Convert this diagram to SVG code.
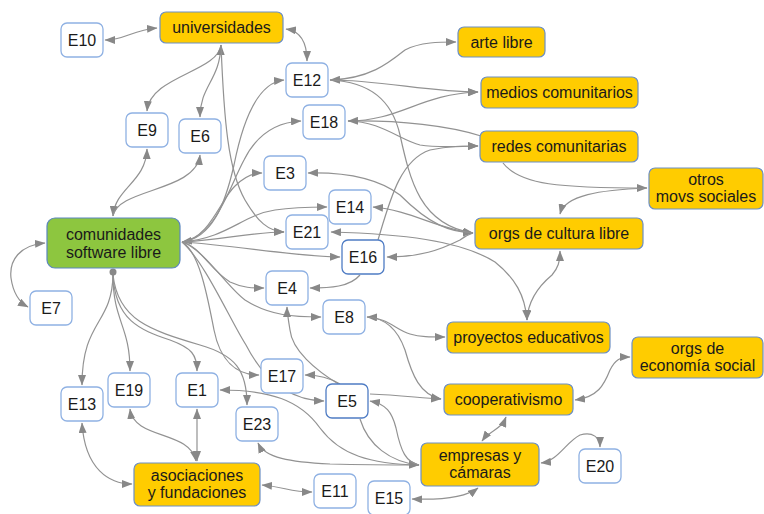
<svg xmlns="http://www.w3.org/2000/svg" width="764" height="514" viewBox="0 0 764 514">
<defs>
<style>
.e rect{fill:#fff;stroke:#8fb1e3;stroke-width:1.3}
.e.d rect{stroke:#4f7cc4}
.y rect{fill:#FFCC00;stroke:#6d8fc4;stroke-width:1.2}
.g rect{fill:#8DC63F;stroke:#5b86bf;stroke-width:1.2}
text{font-family:"Liberation Sans",Arial,sans-serif;font-size:16px;fill:#1a1a1a;text-anchor:middle}
#edges path{fill:none;stroke:#929292;stroke-width:1.2}
.b{marker-start:url(#a);marker-end:url(#a)}
.t{marker-end:url(#a)}
.s{marker-start:url(#a)}
</style>
<marker id="a" markerUnits="userSpaceOnUse" markerWidth="11" markerHeight="8" refX="10" refY="4" orient="auto-start-reverse"><path d="M0,0 L10.5,4 L0,8 z" fill="#888"/></marker>
</defs>
<rect width="764" height="514" fill="#fff"/>
<g id="edges">
<path class="b" d="M105,40 C125,40 132,30 157,28"/>
<path class="b" d="M286,29 C300,31 307,42 307,61"/>
<path class="t" d="M221,45 C218,72 150,76 147,111"/>
<path class="b" d="M221,45 C220,80 200,86 200,117"/>
<path class="t" d="M221,45 C224,120 228,170 245,200 C258,222 268,231 284,232"/>
<path class="b" d="M113,216 C115,188 146,182 147,149"/>
<path class="t" d="M113,216 C118,188 196,192 200,155"/>
<path class="b" d="M45,243 C20,245 9,260 11,278 C13,292 19,302 28,307"/>
<path class="b" d="M182,242 C212,238 225,205 234,165 C245,110 262,82 284,80"/>
<path class="t" d="M182,242 C216,236 228,190 244,160 C258,132 280,122 301,121"/>
<path class="t" d="M182,242 C210,238 220,200 235,186 C245,176 254,173 262,173"/>
<path class="t" d="M182,242 C228,238 242,215 275,210 C295,207 310,207 327,207"/>
<path class="t" d="M182,242 C222,240 252,232 284,232"/>
<path class="t" d="M182,242 C240,246 290,256 340,257"/>
<path class="t" d="M182,242 C200,246 210,270 230,282 C243,288 252,288 264,288"/>
<path class="t" d="M182,242 C205,250 225,285 245,300 C270,316 295,317 321,317"/>
<path class="t" d="M182,242 C200,252 208,300 214,330 C220,360 236,375 259,375"/>
<path class="t" d="M182,242 C205,262 230,320 246,345 C266,384 292,400 324,401"/>
<path class="t" d="M113,275 C112,325 82,320 82,385"/>
<path class="t" d="M113,275 C113,322 130,325 130,371"/>
<path class="t" d="M113,275 C115,320 140,330 170,340 C192,348 197,355 197,371"/>
<path class="t" d="M113,275 C118,320 150,330 200,345 C235,355 247,370 247,405"/>
<path class="t" d="M360,275 C350,287 330,288 310,288"/>
<path class="t" d="M340,385 C315,370 292,350 290,330 C288,318 287,312 287,307"/>
<path class="t" d="M340,384 C330,378 318,375 305,375"/>
<path class="b" d="M220,390 C270,390 300,400 320,428 C340,455 370,464 419,465"/>
<path class="s" d="M258,443 C265,458 290,462 330,464 C370,465 400,465 419,465"/>
<path class="t" d="M360,419 C368,445 390,462 419,465"/>
<path class="s" d="M370,401 C386,404 392,412 396,428 C401,452 406,462 419,465"/>
<path class="t" d="M370,394 C400,395 420,398 441,399"/>
<path class="b" d="M367,317 C388,318 396,330 410,334 C420,337 430,337 445,337"/>
<path class="t" d="M367,317 C385,318 398,330 405,350 C412,375 420,395 441,399"/>
<path class="b" d="M527,320 C528,300 540,285 552,275 C558,268 560,262 560,251"/>
<path class="b" d="M331,232 C400,234 460,240 495,262 C515,278 525,295 527,320"/>
<path class="b" d="M506,417 C501,430 490,430 482,441"/>
<path class="b" d="M541,463 C558,461 566,442 580,435 C593,431 600,438 600,447"/>
<path class="b" d="M412,499 C440,500 465,498 478,488"/>
<path class="b" d="M575,400 C598,397 604,385 610,370 C615,360 620,357 630,357"/>
<path class="b" d="M262,485 C285,487 290,492 312,492"/>
<path class="b" d="M197,409 L197,461"/>
<path class="b" d="M130,409 C134,440 190,430 196,461"/>
<path class="b" d="M82,423 C85,470 110,484 132,484"/>
<path class="b" d="M330,80 C370,79 390,62 405,50 C420,42 440,42 456,42"/>
<path class="t" d="M330,80 C380,80 430,92 478,92"/>
<path class="t" d="M330,80 C370,82 392,100 400,135 C410,180 420,225 473,233"/>
<path class="t" d="M348,121 C400,121 420,94 478,92"/>
<path class="t" d="M348,121 C380,121 400,140 420,145 C440,148 460,146 478,146"/>
<path class="s" d="M348,121 C400,120 450,126 481,136"/>
<path class="t" d="M378,240 C390,200 400,160 430,150 C450,146 462,146 478,146"/>
<path class="b" d="M308,173 C350,172 380,180 400,195 C430,225 450,232 473,233"/>
<path class="s" d="M373,207 C410,210 440,230 473,233"/>
<path class="s" d="M387,257 C420,257 440,250 460,240 C465,236 470,234 473,233"/>
<path class="t" d="M503,163 C520,185 560,188 647,188"/>
<path class="t" d="M647,188 C600,190 565,195 560,214"/>
<circle cx="113" cy="272" r="3.5" fill="#888"/>
</g>
<g id="universidades" class="y"><rect x="160" y="12" width="123" height="31" rx="6"/><text x="221.5" y="33">universidades</text></g>
<g id="comunidades" class="g"><rect x="47" y="218" width="133" height="50" rx="8"/><text x="113.5" y="240">comunidades</text><text x="113.5" y="258">software libre</text></g>
<g id="arte" class="y"><rect x="458" y="27" width="87" height="30" rx="6"/><text x="501.5" y="47.5">arte libre</text></g>
<g id="medios" class="y"><rect x="481" y="77" width="157" height="31" rx="6"/><text x="559.5" y="98">medios comunitarios</text></g>
<g id="redes" class="y"><rect x="480" y="131" width="158" height="31" rx="6"/><text x="559" y="152">redes comunitarias</text></g>
<g id="otros" class="y"><rect x="649" y="168" width="114" height="41" rx="6"/><text x="706" y="185">otros</text><text x="706" y="202">movs sociales</text></g>
<g id="cultura" class="y"><rect x="475" y="218" width="168" height="31" rx="6"/><text x="559" y="239">orgs de cultura libre</text></g>
<g id="proyectos" class="y"><rect x="447" y="322" width="163" height="31" rx="6"/><text x="528.5" y="343">proyectos educativos</text></g>
<g id="economia" class="y"><rect x="632" y="337" width="131" height="41" rx="6"/><text x="697.5" y="354">orgs de</text><text x="697.5" y="371">economía social</text></g>
<g id="cooperativismo" class="y"><rect x="444" y="384" width="129" height="31" rx="6"/><text x="508.5" y="405">cooperativismo</text></g>
<g id="empresas" class="y"><rect x="421" y="443" width="118" height="43" rx="6"/><text x="480" y="461">empresas y</text><text x="480" y="478">cámaras</text></g>
<g id="asociaciones" class="y"><rect x="134" y="463" width="126" height="43" rx="6"/><text x="197" y="481">asociaciones</text><text x="197" y="498">y fundaciones</text></g>
<g id="E10" class="e"><rect x="61" y="23" width="42" height="34" rx="6"/><text x="82" y="46">E10</text></g>
<g id="E12" class="e"><rect x="286" y="63" width="42" height="34" rx="6"/><text x="307" y="86">E12</text></g>
<g id="E18" class="e"><rect x="303" y="105" width="42" height="34" rx="6"/><text x="324" y="128">E18</text></g>
<g id="E9" class="e"><rect x="126" y="113" width="42" height="34" rx="6"/><text x="147" y="136">E9</text></g>
<g id="E6" class="e"><rect x="179" y="119" width="42" height="34" rx="6"/><text x="200" y="142">E6</text></g>
<g id="E3" class="e"><rect x="264" y="156" width="42" height="34" rx="6"/><text x="285" y="179">E3</text></g>
<g id="E14" class="e"><rect x="329" y="190" width="42" height="34" rx="6"/><text x="350" y="213">E14</text></g>
<g id="E21" class="e"><rect x="286" y="215" width="42" height="34" rx="6"/><text x="307" y="238">E21</text></g>
<g id="E16" class="e d"><rect x="342" y="240" width="42" height="34" rx="6"/><text x="363" y="263">E16</text></g>
<g id="E7" class="e"><rect x="30" y="291" width="42" height="34" rx="6"/><text x="51" y="314">E7</text></g>
<g id="E4" class="e"><rect x="266" y="271" width="42" height="34" rx="6"/><text x="287" y="294">E4</text></g>
<g id="E8" class="e"><rect x="323" y="300" width="42" height="34" rx="6"/><text x="344" y="323">E8</text></g>
<g id="E17" class="e"><rect x="261" y="359" width="42" height="34" rx="6"/><text x="282" y="382">E17</text></g>
<g id="E5" class="e d"><rect x="326" y="384" width="42" height="34" rx="6"/><text x="347" y="407">E5</text></g>
<g id="E13" class="e"><rect x="61" y="387" width="42" height="34" rx="6"/><text x="82" y="410">E13</text></g>
<g id="E19" class="e"><rect x="108" y="373" width="42" height="34" rx="6"/><text x="129" y="396">E19</text></g>
<g id="E1" class="e"><rect x="176" y="373" width="42" height="34" rx="6"/><text x="197" y="396">E1</text></g>
<g id="E23" class="e"><rect x="236" y="407" width="42" height="34" rx="6"/><text x="257" y="430">E23</text></g>
<g id="E11" class="e"><rect x="314" y="474" width="42" height="34" rx="6"/><text x="335" y="497">E11</text></g>
<g id="E15" class="e"><rect x="368" y="481" width="42" height="34" rx="6"/><text x="389" y="504">E15</text></g>
<g id="E20" class="e"><rect x="579" y="449" width="42" height="34" rx="6"/><text x="600" y="472">E20</text></g>
</svg>
